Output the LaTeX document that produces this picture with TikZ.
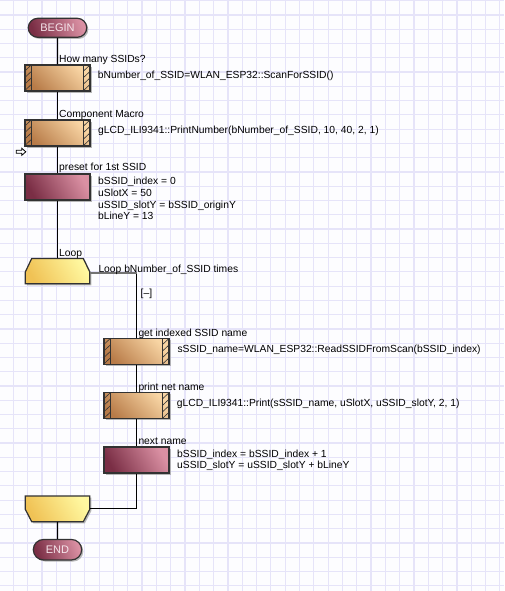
\documentclass[tikz,border=0pt]{standalone}
\usepackage{fontspec}
\setmainfont{Liberation Sans}
\usetikzlibrary{shapes.misc,shadows}
\definecolor{bgc}{RGB}{253,253,255}
\definecolor{gridc}{RGB}{230,228,249}
\definecolor{macdark}{RGB}{184,123,72}
\definecolor{maclight}{RGB}{248,213,164}
\definecolor{caldark}{RGB}{122,46,69}
\definecolor{callight}{RGB}{218,144,163}
\definecolor{loopdark}{RGB}{240,194,85}
\definecolor{looplight}{RGB}{255,248,160}
\definecolor{ovaltext}{RGB}{246,230,236}
\definecolor{edgec}{RGB}{50,50,50}
\newcommand{\hatchstrips}[1]{%
  \begin{scope}
    \clip ([xshift=0.6pt,yshift=-0.6pt]#1.north west) rectangle ([xshift=7.5pt,yshift=0.6pt]#1.south west);
    \foreach \k in {-1,...,6} \draw[edgec,line width=0.6pt] ([xshift=0pt,yshift={-(6.5*\k+7)*1pt}]#1.north west) -- ++(7.5,-7);
  \end{scope}
  \begin{scope}
    \clip ([xshift=-7.5pt,yshift=-0.6pt]#1.north east) rectangle ([xshift=-0.6pt,yshift=0.6pt]#1.south east);
    \foreach \k in {-1,...,6} \draw[edgec,line width=0.6pt] ([xshift=-7.5pt,yshift={-(6.5*\k+7)*1pt}]#1.north east) -- ++(7.5,-7);
  \end{scope}
  \draw[edgec,line width=1pt] ([xshift=7.5pt]#1.north west) -- ([xshift=7.5pt]#1.south west);
  \draw[edgec,line width=1pt] ([xshift=-7.5pt]#1.north east) -- ([xshift=-7.5pt]#1.south east);
}
\tikzset{
  shadowed/.style={drop shadow={shadow xshift=1.6pt,shadow yshift=-1.6pt,fill=black!35,opacity=0.8}},
  txt/.style={inner sep=0pt,font=\fontsize{10.3}{11.6}\selectfont,text=black},
  lbl/.style={txt,anchor=base west},
  macrobox/.style={draw=edgec,line width=1.2pt,minimum width=65pt,minimum height=26pt,inner sep=0pt,
    top color=maclight,bottom color=macdark,shading angle=-45,shadowed},
  calcbox/.style={draw=edgec,line width=1.2pt,minimum width=65pt,minimum height=26pt,inner sep=0pt,
    top color=callight,bottom color=caldark,shading angle=-60,shadowed},
  oval/.style={rounded rectangle,draw=edgec,line width=1.2pt,inner sep=0pt,
    top color=callight,bottom color=caldark,shading angle=-70,shadowed,
    font=\fontsize{11}{12}\selectfont,text=ovaltext},
  conn/.style={line width=1.3pt,black},
  loopconn/.style={line width=1.8pt,black!55},
  loopshape/.style={draw=edgec,line width=1.2pt,top color=looplight,bottom color=loopdark,shading angle=-60},
}
\begin{document}
\begin{tikzpicture}[x=1pt,y=-1pt]
\useasboundingbox (0,0) rectangle (504,591);
\fill[bgc] (0,0) rectangle (504,591);
\foreach \i in {0,...,34} \draw[gridc,line width=1.2pt] (13.3+14.31*\i,0) -- ++(0,591);
\foreach \j in {0,...,41} \draw[gridc,line width=1.2pt] (0,0.7+14.27*\j) -- ++(504,0);

% main column
\node[oval,minimum width=58.5pt,minimum height=19pt] (begin) at (57.5,27.8) {BEGIN};
\node[macrobox] (m1) at (57.5,78) {};
\node[macrobox] (m2) at (57.5,133) {};
\node[calcbox] (c1) at (57.5,187) {};
\hatchstrips{m1}
\hatchstrips{m2}

% loop top shape
\fill[black!35,opacity=0.8,shift={(1.6,1.6)}] (31.7,258.5) -- (83.3,258.5) -- (89.8,272) -- (89.8,283.8) -- (25.3,283.8) -- (25.3,272) -- cycle;
\shade[loopshape] (31.7,258.5) -- (83.3,258.5) -- (89.8,272) -- (89.8,283.8) -- (25.3,283.8) -- (25.3,272) -- cycle;
\node[minimum width=64.5pt,minimum height=25.3pt,inner sep=0pt] (loopA) at (57.5,271.1) {};

% loop end shape
\fill[black!35,opacity=0.8,shift={(1.6,1.6)}] (25.3,496) -- (89.8,496) -- (89.8,509.3) -- (83.3,521.7) -- (31.7,521.7) -- (25.3,509.3) -- cycle;
\shade[loopshape] (25.3,496) -- (89.8,496) -- (89.8,509.3) -- (83.3,521.7) -- (31.7,521.7) -- (25.3,509.3) -- cycle;
\node[minimum width=64.5pt,minimum height=25.7pt,inner sep=0pt] (loopB) at (57.5,508.85) {};

\node[oval,minimum width=48.4pt,minimum height=20.5pt] (end) at (57.5,549.7) {END};

% inner column
\node[macrobox] (m3) at (136.5,351.5) {};
\node[macrobox] (m4) at (136.5,405.8) {};
\node[calcbox] (c2) at (136.5,460) {};
\hatchstrips{m3}
\hatchstrips{m4}

\coordinate (lc1) at (136.5,273.3);
\coordinate (lc2) at (136.5,508.3);

% connectors
\draw[conn] (begin) -- (m1);
\draw[conn] (m1) -- (m2);
\draw[conn] (m2) -- (c1);
\draw[conn] (c1) -- (loopA);
\draw[loopconn] (loopA.east |- lc1) -- (lc1);
\draw[conn] ([yshift=-0.9pt]lc1) -- (m3);
\draw[conn] (m3) -- (m4);
\draw[conn] (m4) -- (c2);
\draw[conn] (c2) -- (lc2) -- (loopB.east |- lc2);
\draw[conn] (loopB) -- (end);

% labels
\node[lbl] (t1) at (59,63) {How many SSIDs?};
\node[lbl] (t2) at (97.7,78.7) {bNumber\_of\_SSID=WLAN\_ESP32::ScanForSSID()};
\node[lbl] (t3) at (59,117.7) {Component Macro};
\node[lbl] (t4) at (98,133) {gLCD\_ILI9341::PrintNumber(bNumber\_of\_SSID, 10, 40, 2, 1)};
\node[lbl] (t5) at (59,170.7) {preset for 1st SSID};
\node[txt,anchor=north west,align=left] (t6) at (98,177.2) {bSSID\_index = 0\\uSlotX = 50\\uSSID\_slotY = bSSID\_originY\\bLineY = 13};
\node[lbl] (t7) at (59,256.4) {Loop};
\node[lbl] (t8) at (98.3,272) {Loop bNumber\_of\_SSID times};
\node[lbl] (t9) at (140.5,296.7) {[–]};
\node[lbl] (t10) at (138.3,336.4) {get indexed SSID name};
\node[lbl] (t11) at (177.3,352) {sSSID\_name=WLAN\_ESP32::ReadSSIDFromScan(bSSID\_index)};
\node[lbl] (t12) at (138.3,390.7) {print net name};
\node[lbl] (t13) at (176.7,406.4) {gLCD\_ILI9341::Print(sSSID\_name, uSlotX, uSSID\_slotY, 2, 1)};
\node[lbl] (t14) at (138.3,444.7) {next name};
\node[txt,anchor=north west,align=left] (t15) at (177,449.5) {bSSID\_index = bSSID\_index + 1\\uSSID\_slotY = uSSID\_slotY + bLineY};

% cursor arrow icon
\draw[black,line width=0.8pt,fill=white] (16.3,150.3) -- (21.8,150.3) -- (21.8,148.3) -- (25.8,151.8) -- (21.8,155.3) -- (21.8,153.3) -- (16.3,153.3) -- cycle;
\end{tikzpicture}
\end{document}
